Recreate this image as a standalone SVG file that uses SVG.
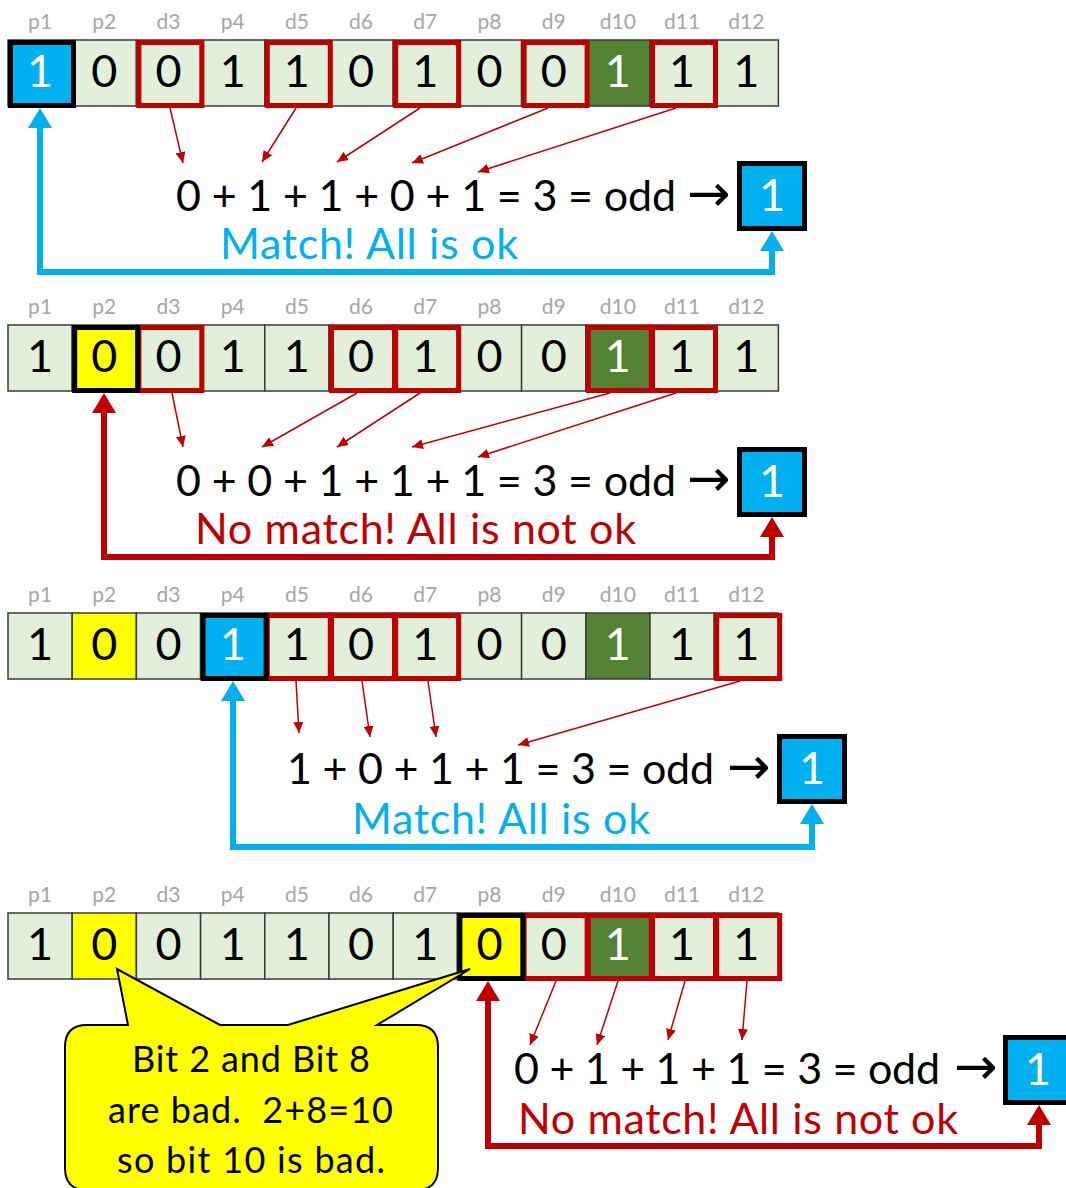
<svg xmlns="http://www.w3.org/2000/svg" width="1066" height="1188" viewBox="0 0 1066 1188">
<style>
.bg{fill:#fff}
.cell{fill:#E2EFDA;stroke:#3a3a3a;stroke-width:1.5}
.blue{fill:#00B0F0}
.green{fill:#548235}
.yel{fill:#FFFF00}
.lbl{font-family:Lato,"Liberation Sans",sans-serif;font-size:21px;fill:#A6A6A6;text-anchor:middle}
.dg{font-family:Lato,"Liberation Sans",sans-serif;font-size:45px;fill:#000;text-anchor:middle}
.wt{fill:#fff}
.hr{fill:none;stroke:#C00000;stroke-width:5}
.hk{fill:none;stroke:#000;stroke-width:5}
.res{fill:#00B0F0;stroke:#000;stroke-width:5}
.eq{font-family:Lato,"Liberation Sans",sans-serif;font-size:43px;fill:#000}
.arr{font-family:"DejaVu Sans",sans-serif;font-size:52px;fill:#000}
.ok{font-family:Lato,"Liberation Sans",sans-serif;font-size:43px;fill:#00B0F0}
.bad{font-family:Lato,"Liberation Sans",sans-serif;font-size:43px;fill:#C00000}
.thin{fill:none;stroke:#C00000;stroke-width:1.5;marker-end:url(#sm)}
.thickb{fill:none;stroke:#00B0F0;stroke-width:6;marker-start:url(#ab);marker-end:url(#ab)}
.thickr{fill:none;stroke:#C00000;stroke-width:6;marker-start:url(#ar);marker-end:url(#ar)}
.call{fill:#FFFF00;stroke:#000;stroke-width:2}
.ct{font-family:Lato,"Liberation Sans",sans-serif;font-size:36px;fill:#000;white-space:pre}
</style>
<defs>
<marker id="sm" markerUnits="userSpaceOnUse" markerWidth="12" markerHeight="10" refX="11" refY="5" orient="auto"><path d="M0,0 L11,5 L0,10 Z" fill="#C00000"/></marker>
<marker id="ab" markerUnits="userSpaceOnUse" markerWidth="21" markerHeight="24" refX="0" refY="12" orient="auto-start-reverse"><path d="M0,0 L20,12 L0,24 Z" fill="#00B0F0"/></marker>
<marker id="ar" markerUnits="userSpaceOnUse" markerWidth="21" markerHeight="24" refX="0" refY="12" orient="auto-start-reverse"><path d="M0,0 L20,12 L0,24 Z" fill="#C00000"/></marker>
</defs>
<rect class="bg" x="0" y="0" width="1066" height="1188"/>

<!-- ROW 1 -->
<g id="row1">
<g id="r1-p1"><rect class="cell blue" x="8" y="40" width="64.2" height="66"/><text class="lbl" x="40.1" y="29">p1</text><text class="dg wt" x="40.1" y="87">1</text></g>
<g id="r1-p2"><rect class="cell" x="72.2" y="40" width="64.2" height="66"/><text class="lbl" x="104.3" y="29">p2</text><text class="dg" x="104.3" y="87">0</text></g>
<g id="r1-d3"><rect class="cell" x="136.4" y="40" width="64.2" height="66"/><text class="lbl" x="168.5" y="29">d3</text><text class="dg" x="168.5" y="87">0</text></g>
<g id="r1-p4"><rect class="cell" x="200.6" y="40" width="64.2" height="66"/><text class="lbl" x="232.7" y="29">p4</text><text class="dg" x="232.7" y="87">1</text></g>
<g id="r1-d5"><rect class="cell" x="264.8" y="40" width="64.2" height="66"/><text class="lbl" x="296.9" y="29">d5</text><text class="dg" x="296.9" y="87">1</text></g>
<g id="r1-d6"><rect class="cell" x="329" y="40" width="64.2" height="66"/><text class="lbl" x="361.1" y="29">d6</text><text class="dg" x="361.1" y="87">0</text></g>
<g id="r1-d7"><rect class="cell" x="393.2" y="40" width="64.2" height="66"/><text class="lbl" x="425.3" y="29">d7</text><text class="dg" x="425.3" y="87">1</text></g>
<g id="r1-p8"><rect class="cell" x="457.4" y="40" width="64.2" height="66"/><text class="lbl" x="489.5" y="29">p8</text><text class="dg" x="489.5" y="87">0</text></g>
<g id="r1-d9"><rect class="cell" x="521.6" y="40" width="64.2" height="66"/><text class="lbl" x="553.7" y="29">d9</text><text class="dg" x="553.7" y="87">0</text></g>
<g id="r1-d10"><rect class="cell green" x="585.8" y="40" width="64.2" height="66"/><text class="lbl" x="617.9" y="29">d10</text><text class="dg wt" x="617.9" y="87">1</text></g>
<g id="r1-d11"><rect class="cell" x="650" y="40" width="64.2" height="66"/><text class="lbl" x="682.1" y="29">d11</text><text class="dg" x="682.1" y="87">1</text></g>
<g id="r1-d12"><rect class="cell" x="714.2" y="40" width="64.2" height="66"/><text class="lbl" x="746.3" y="29">d12</text><text class="dg" x="746.3" y="87">1</text></g>
<g id="r1-marks">
<rect class="hr" x="138.9" y="42.5" width="63" height="63"/>
<rect class="hr" x="267.3" y="42.5" width="63" height="63"/>
<rect class="hr" x="395.7" y="42.5" width="63" height="63"/>
<rect class="hr" x="524.1" y="42.5" width="63" height="63"/>
<rect class="hr" x="652.5" y="42.5" width="63" height="63"/>
<rect class="hk" x="10.5" y="42.5" width="63" height="63"/>
</g>
<g id="r1-sum"><text class="eq" x="176" y="211" textLength="500">0 + 1 + 1 + 0 + 1 = 3 = odd</text><text class="arr" x="687" y="211">→</text></g>
<g id="r1-result"><rect class="res" x="739.5" y="163.5" width="65" height="65"/><text class="dg wt" x="772" y="211">1</text></g>
<text class="ok" x="220" y="259" textLength="298">Match! All is ok</text>
</g>

<!-- ROW 2 -->
<g id="row2">
<g id="r2-p1"><rect class="cell" x="8" y="325" width="64.2" height="66"/><text class="lbl" x="40.1" y="314">p1</text><text class="dg" x="40.1" y="372">1</text></g>
<g id="r2-p2"><rect class="cell yel" x="72.2" y="325" width="64.2" height="66"/><text class="lbl" x="104.3" y="314">p2</text><text class="dg" x="104.3" y="372">0</text></g>
<g id="r2-d3"><rect class="cell" x="136.4" y="325" width="64.2" height="66"/><text class="lbl" x="168.5" y="314">d3</text><text class="dg" x="168.5" y="372">0</text></g>
<g id="r2-p4"><rect class="cell" x="200.6" y="325" width="64.2" height="66"/><text class="lbl" x="232.7" y="314">p4</text><text class="dg" x="232.7" y="372">1</text></g>
<g id="r2-d5"><rect class="cell" x="264.8" y="325" width="64.2" height="66"/><text class="lbl" x="296.9" y="314">d5</text><text class="dg" x="296.9" y="372">1</text></g>
<g id="r2-d6"><rect class="cell" x="329" y="325" width="64.2" height="66"/><text class="lbl" x="361.1" y="314">d6</text><text class="dg" x="361.1" y="372">0</text></g>
<g id="r2-d7"><rect class="cell" x="393.2" y="325" width="64.2" height="66"/><text class="lbl" x="425.3" y="314">d7</text><text class="dg" x="425.3" y="372">1</text></g>
<g id="r2-p8"><rect class="cell" x="457.4" y="325" width="64.2" height="66"/><text class="lbl" x="489.5" y="314">p8</text><text class="dg" x="489.5" y="372">0</text></g>
<g id="r2-d9"><rect class="cell" x="521.6" y="325" width="64.2" height="66"/><text class="lbl" x="553.7" y="314">d9</text><text class="dg" x="553.7" y="372">0</text></g>
<g id="r2-d10"><rect class="cell green" x="585.8" y="325" width="64.2" height="66"/><text class="lbl" x="617.9" y="314">d10</text><text class="dg wt" x="617.9" y="372">1</text></g>
<g id="r2-d11"><rect class="cell" x="650" y="325" width="64.2" height="66"/><text class="lbl" x="682.1" y="314">d11</text><text class="dg" x="682.1" y="372">1</text></g>
<g id="r2-d12"><rect class="cell" x="714.2" y="325" width="64.2" height="66"/><text class="lbl" x="746.3" y="314">d12</text><text class="dg" x="746.3" y="372">1</text></g>
<g id="r2-marks">
<rect class="hr" x="138.9" y="327.5" width="63" height="63"/>
<rect class="hr" x="331.5" y="327.5" width="63" height="63"/>
<rect class="hr" x="395.7" y="327.5" width="63" height="63"/>
<rect class="hr" x="588.3" y="327.5" width="63" height="63"/>
<rect class="hr" x="652.5" y="327.5" width="63" height="63"/>
<rect class="hk" x="74.7" y="327.5" width="63" height="63"/>
</g>
<g id="r2-sum"><text class="eq" x="176" y="496" textLength="500">0 + 0 + 1 + 1 + 1 = 3 = odd</text><text class="arr" x="687" y="496">→</text></g>
<g id="r2-result"><rect class="res" x="739.5" y="449.5" width="65" height="65"/><text class="dg wt" x="772" y="497">1</text></g>
<text class="bad" x="195" y="544" textLength="441">No match! All is not ok</text>
</g>

<!-- ROW 3 -->
<g id="row3">
<g id="r3-p1"><rect class="cell" x="8" y="613" width="64.2" height="66"/><text class="lbl" x="40.1" y="602">p1</text><text class="dg" x="40.1" y="660">1</text></g>
<g id="r3-p2"><rect class="cell yel" x="72.2" y="613" width="64.2" height="66"/><text class="lbl" x="104.3" y="602">p2</text><text class="dg" x="104.3" y="660">0</text></g>
<g id="r3-d3"><rect class="cell" x="136.4" y="613" width="64.2" height="66"/><text class="lbl" x="168.5" y="602">d3</text><text class="dg" x="168.5" y="660">0</text></g>
<g id="r3-p4"><rect class="cell blue" x="200.6" y="613" width="64.2" height="66"/><text class="lbl" x="232.7" y="602">p4</text><text class="dg wt" x="232.7" y="660">1</text></g>
<g id="r3-d5"><rect class="cell" x="264.8" y="613" width="64.2" height="66"/><text class="lbl" x="296.9" y="602">d5</text><text class="dg" x="296.9" y="660">1</text></g>
<g id="r3-d6"><rect class="cell" x="329" y="613" width="64.2" height="66"/><text class="lbl" x="361.1" y="602">d6</text><text class="dg" x="361.1" y="660">0</text></g>
<g id="r3-d7"><rect class="cell" x="393.2" y="613" width="64.2" height="66"/><text class="lbl" x="425.3" y="602">d7</text><text class="dg" x="425.3" y="660">1</text></g>
<g id="r3-p8"><rect class="cell" x="457.4" y="613" width="64.2" height="66"/><text class="lbl" x="489.5" y="602">p8</text><text class="dg" x="489.5" y="660">0</text></g>
<g id="r3-d9"><rect class="cell" x="521.6" y="613" width="64.2" height="66"/><text class="lbl" x="553.7" y="602">d9</text><text class="dg" x="553.7" y="660">0</text></g>
<g id="r3-d10"><rect class="cell green" x="585.8" y="613" width="64.2" height="66"/><text class="lbl" x="617.9" y="602">d10</text><text class="dg wt" x="617.9" y="660">1</text></g>
<g id="r3-d11"><rect class="cell" x="650" y="613" width="64.2" height="66"/><text class="lbl" x="682.1" y="602">d11</text><text class="dg" x="682.1" y="660">1</text></g>
<g id="r3-d12"><rect class="cell" x="714.2" y="613" width="64.2" height="66"/><text class="lbl" x="746.3" y="602">d12</text><text class="dg" x="746.3" y="660">1</text></g>
<g id="r3-marks">
<rect class="hr" x="267.3" y="615.5" width="63" height="63"/>
<rect class="hr" x="331.5" y="615.5" width="63" height="63"/>
<rect class="hr" x="395.7" y="615.5" width="63" height="63"/>
<rect class="hr" x="716.7" y="615.5" width="63" height="63"/>
<rect class="hk" x="203.1" y="615.5" width="63" height="63"/>
</g>
<g id="r3-sum"><text class="eq" x="287" y="784" textLength="427">1 + 0 + 1 + 1 = 3 = odd</text><text class="arr" x="727" y="784">→</text></g>
<g id="r3-result"><rect class="res" x="779.5" y="736.5" width="65" height="65"/><text class="dg wt" x="812" y="784">1</text></g>
<text class="ok" x="352" y="834" textLength="298">Match! All is ok</text>
</g>

<!-- ROW 4 -->
<g id="row4">
<g id="r4-p1"><rect class="cell" x="8" y="913" width="64.2" height="66"/><text class="lbl" x="40.1" y="902">p1</text><text class="dg" x="40.1" y="960">1</text></g>
<g id="r4-p2"><rect class="cell yel" x="72.2" y="913" width="64.2" height="66"/><text class="lbl" x="104.3" y="902">p2</text><text class="dg" x="104.3" y="960">0</text></g>
<g id="r4-d3"><rect class="cell" x="136.4" y="913" width="64.2" height="66"/><text class="lbl" x="168.5" y="902">d3</text><text class="dg" x="168.5" y="960">0</text></g>
<g id="r4-p4"><rect class="cell" x="200.6" y="913" width="64.2" height="66"/><text class="lbl" x="232.7" y="902">p4</text><text class="dg" x="232.7" y="960">1</text></g>
<g id="r4-d5"><rect class="cell" x="264.8" y="913" width="64.2" height="66"/><text class="lbl" x="296.9" y="902">d5</text><text class="dg" x="296.9" y="960">1</text></g>
<g id="r4-d6"><rect class="cell" x="329" y="913" width="64.2" height="66"/><text class="lbl" x="361.1" y="902">d6</text><text class="dg" x="361.1" y="960">0</text></g>
<g id="r4-d7"><rect class="cell" x="393.2" y="913" width="64.2" height="66"/><text class="lbl" x="425.3" y="902">d7</text><text class="dg" x="425.3" y="960">1</text></g>
<g id="r4-p8"><rect class="cell yel" x="457.4" y="913" width="64.2" height="66"/><text class="lbl" x="489.5" y="902">p8</text><text class="dg" x="489.5" y="960">0</text></g>
<g id="r4-d9"><rect class="cell" x="521.6" y="913" width="64.2" height="66"/><text class="lbl" x="553.7" y="902">d9</text><text class="dg" x="553.7" y="960">0</text></g>
<g id="r4-d10"><rect class="cell green" x="585.8" y="913" width="64.2" height="66"/><text class="lbl" x="617.9" y="902">d10</text><text class="dg wt" x="617.9" y="960">1</text></g>
<g id="r4-d11"><rect class="cell" x="650" y="913" width="64.2" height="66"/><text class="lbl" x="682.1" y="902">d11</text><text class="dg" x="682.1" y="960">1</text></g>
<g id="r4-d12"><rect class="cell" x="714.2" y="913" width="64.2" height="66"/><text class="lbl" x="746.3" y="902">d12</text><text class="dg" x="746.3" y="960">1</text></g>
<g id="r4-marks">
<rect class="hr" x="524.1" y="915.5" width="63" height="63"/>
<rect class="hr" x="588.3" y="915.5" width="63" height="63"/>
<rect class="hr" x="652.5" y="915.5" width="63" height="63"/>
<rect class="hr" x="716.7" y="915.5" width="63" height="63"/>
<rect class="hk" x="459.9" y="915.5" width="63" height="63"/>
</g>
<g id="r4-sum"><text class="eq" x="514" y="1084" textLength="426">0 + 1 + 1 + 1 = 3 = odd</text><text class="arr" x="954" y="1084">→</text></g>
<g id="r4-result"><rect class="res" x="1005.5" y="1037.5" width="65" height="65"/><text class="dg wt" x="1038" y="1085">1</text></g>
<text class="bad" x="518" y="1134" textLength="440">No match! All is not ok</text>
</g>

<!-- connectors -->
<g id="connectors">
<path class="thin" d="M170,108 L183,163"/>
<path class="thin" d="M296,108 L262,162"/>
<path class="thin" d="M420,108 L337,162"/>
<path class="thin" d="M548,108 L412,163"/>
<path class="thin" d="M676,108 L478,172"/>
<path class="thickb" d="M40,128 L40,272 L772,272 L772,251"/>

<path class="thin" d="M172,393 L183,447"/>
<path class="thin" d="M357,393 L262,447"/>
<path class="thin" d="M420,393 L337,447"/>
<path class="thin" d="M610,393 L412,447"/>
<path class="thin" d="M676,393 L478,457"/>
<path class="thickr" d="M104,413 L104,557 L772,557 L772,537"/>

<path class="thin" d="M296,681 L299,733"/>
<path class="thin" d="M362,681 L370,737"/>
<path class="thin" d="M428,681 L436,737"/>
<path class="thin" d="M740,681 L518,745"/>
<path class="thickb" d="M233,701 L233,847 L812,847 L812,824"/>

<path class="thin" d="M556,981 L530,1045"/>
<path class="thin" d="M618,981 L597,1045"/>
<path class="thin" d="M685,981 L668,1040"/>
<path class="thin" d="M747,981 L742,1040"/>
<path class="thickr" d="M488,1001 L488,1146 L1039,1146 L1039,1125"/>
</g>

<!-- callout -->
<g id="callout">
<path class="call" d="M87,1025 L128,1025 L117,969 L220,1025 L288,1025 L470,969 L377,1025 L416,1025 Q438,1025 438,1047 L438,1168 Q438,1190 416,1190 L87,1190 Q65,1190 65,1168 L65,1047 Q65,1025 87,1025 Z"/>
<text class="ct" x="132" y="1072" textLength="238">Bit 2 and Bit 8</text>
<text class="ct" x="108" y="1123" textLength="285">are bad.  2+8=10</text>
<text class="ct" x="117" y="1173" textLength="268">so bit 10 is bad.</text>
</g>
</svg>
